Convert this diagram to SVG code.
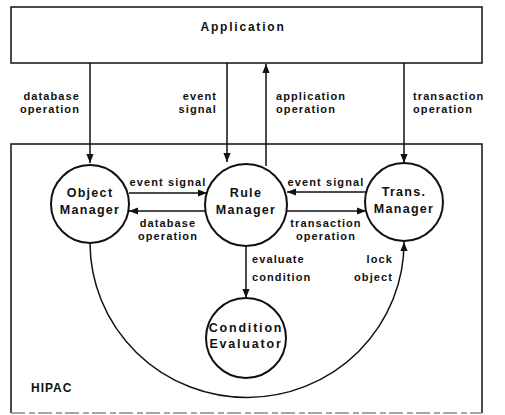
<svg xmlns="http://www.w3.org/2000/svg" width="505" height="415" viewBox="0 0 505 415">
<style>
.box{fill:none;stroke:#111;stroke-width:1.5}
.node{fill:#fff;stroke:#111;stroke-width:2}
.ln{fill:none;stroke:#111;stroke-width:1.5}
.arr{marker-end:url(#ah)}
text{font-family:"Liberation Sans",Arial,sans-serif;font-weight:bold;fill:#111}
.nl{font-size:12.5px;letter-spacing:1.3px;text-anchor:middle}
.cl{font-size:11px;letter-spacing:1.1px}
.m{text-anchor:middle}
.e{text-anchor:end}
</style>
<defs>
<marker id="ah" viewBox="0 0 10 10" refX="10" refY="5" markerWidth="9" markerHeight="9" markerUnits="userSpaceOnUse" orient="auto">
<path d="M0,1 L10,5 L0,9 Z" fill="#111"/>
</marker>
</defs>
<rect fill="#fff" width="505" height="415"/>
<g id="application">
<rect class="box" x="11" y="7" width="471" height="56"/>
<text class="nl" x="243" y="31" style="font-size:12px;letter-spacing:1.8px">Application</text>
</g>
<g id="hipac">
<path class="box" d="M11,413 L11,144 L482,144 L482,413"/>
<path d="M11,413 L482,413" stroke="#888" stroke-width="1.5" stroke-dasharray="14,4,6,3"/>
<text x="31" y="392" style="font-size:12px;letter-spacing:1px">HIPAC</text>
</g>
<g id="connectors">
<line class="ln arr" x1="90" y1="63" x2="90" y2="163"/>
<line class="ln arr" x1="227" y1="63" x2="227" y2="162"/>
<line class="ln arr" x1="266" y1="166" x2="266" y2="64"/>
<line class="ln arr" x1="404" y1="63" x2="404" y2="163"/>
<line class="ln arr" x1="129" y1="193" x2="207" y2="193"/>
<line class="ln arr" x1="207" y1="211" x2="129" y2="211"/>
<line class="ln arr" x1="366" y1="192" x2="287" y2="192"/>
<line class="ln arr" x1="287" y1="211" x2="366" y2="211"/>
<line class="ln arr" x1="246" y1="247" x2="246" y2="298"/>
<path class="ln arr" d="M90,243 A157,155 0 0 0 404,242"/>
<text class="cl e" x="80" y="100">database</text>
<text class="cl e" x="80" y="113">operation</text>
<text class="cl e" x="217" y="100">event</text>
<text class="cl e" x="217" y="113">signal</text>
<text class="cl" x="276" y="100">application</text>
<text class="cl" x="276" y="113">operation</text>
<text class="cl" x="413" y="100">transaction</text>
<text class="cl" x="413" y="113">operation</text>
<text class="cl m" x="168" y="186">event signal</text>
<text class="cl m" x="168" y="227">database</text>
<text class="cl m" x="168" y="240">operation</text>
<text class="cl m" x="326" y="186">event signal</text>
<text class="cl m" x="326" y="227">transaction</text>
<text class="cl m" x="326" y="240">operation</text>
<text class="cl" x="252" y="263">evaluate</text>
<text class="cl" x="252" y="281">condition</text>
<text class="cl e" x="393" y="263">lock</text>
<text class="cl e" x="393" y="281">object</text>
</g>
<g id="object-manager">
<circle class="node" cx="90" cy="204" r="39"/>
<text class="nl" x="90" y="197">Object</text>
<text class="nl" x="90" y="214">Manager</text>
</g>
<g id="rule-manager">
<circle class="node" cx="246" cy="205" r="41"/>
<text class="nl" x="246" y="197">Rule</text>
<text class="nl" x="246" y="214">Manager</text>
</g>
<g id="trans-manager">
<circle class="node" cx="404" cy="202" r="39"/>
<text class="nl" x="404" y="196">Trans.</text>
<text class="nl" x="404" y="213">Manager</text>
</g>
<g id="condition-evaluator">
<circle class="node" cx="246" cy="338" r="40"/>
<text class="nl" x="246" y="332" style="letter-spacing:1.8px">Condition</text>
<text class="nl" x="246" y="348" style="letter-spacing:1.8px">Evaluator</text>
</g>
</svg>
